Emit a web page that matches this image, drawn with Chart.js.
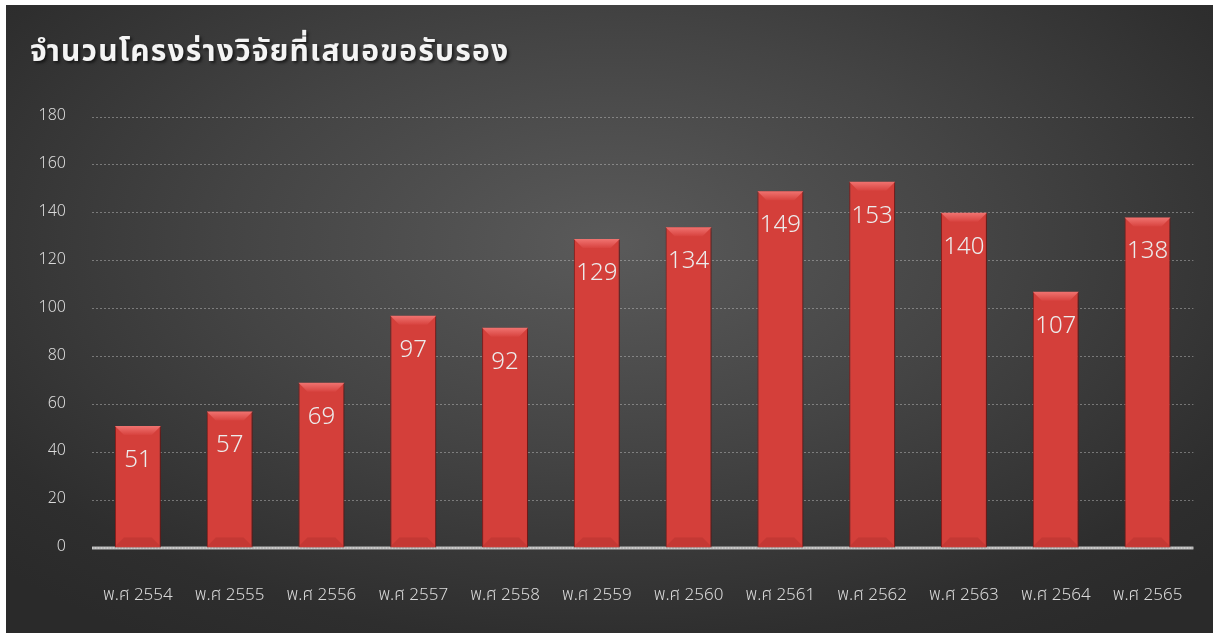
<!DOCTYPE html>
<html>
<head>
<meta charset="utf-8">
<script src="https://cdn.jsdelivr.net/npm/chart.js@4.4.1/dist/chart.umd.min.js"></script>
<style>
  html, body { margin: 0; padding: 0; background: #fff; }
  #box {
    position: absolute; left: 6px; top: 5px; width: 1207px; height: 628px;
    background: radial-gradient(ellipse 70% 75% at 50% 38%, #5a5a5a 0%, #444 45%, #2e2e2e 85%, #2a2a2a 100%);
    overflow: hidden;
  }
  #title {
    position: absolute; left: 24px; top: 24px; margin: 0;
    font-family: "Noto Sans Thai", "Noto Sans", sans-serif; font-size: 30px; font-weight: bold;
    color: #f4f4f4; letter-spacing: 1.2px;
    text-shadow: 2px 2px 3px rgba(0,0,0,0.6);
  }
  canvas { position: absolute; left: 0; top: 0; }
</style>
</head>
<body>
<div id="box">
  <canvas id="chart" width="1207" height="628"></canvas>
  <h1 id="title">จำนวนโครงร่างวิจัยที่เสนอขอรับรอง</h1>
</div>
<script>
// ข้อมูลกราฟ
const years = ["พ.ศ 2554", "พ.ศ 2555", "พ.ศ 2556", "พ.ศ 2557", "พ.ศ 2558", "พ.ศ 2559",
  "พ.ศ 2560", "พ.ศ 2561", "พ.ศ 2562", "พ.ศ 2563", "พ.ศ 2564", "พ.ศ 2565"];
const proposals = [51, 57, 69, 97, 92, 129, 134, 149, 153, 140, 107, 138];
const yTicks = [0, 20, 40, 60, 80, 100, 120, 140, 160, 180];

const FONT = '"Noto Sans Thai", "Noto Sans", sans-serif';

// แท่งสีแดงแบบนูน: ไล่สีแนวนอน
function barFill(ctx) {
  const el = ctx.element;
  const c = ctx.chart.ctx;
  if (!el || el.width === undefined) return "#d43f3a";
  const x0 = el.x - el.width / 2, x1 = el.x + el.width / 2;
  const g = c.createLinearGradient(x0, 0, x1, 0);
  g.addColorStop(0, "#a82523");
  g.addColorStop(0.1, "#c93935");
  g.addColorStop(0.5, "#d8433f");
  g.addColorStop(0.9, "#c93935");
  g.addColorStop(1, "#a82523");
  return g;
}

// เงาของแท่ง
const shadowPlugin = {
  id: "barShadow",
  beforeDatasetDraw(chart) {
    const c = chart.ctx;
    c.save();
    c.shadowColor = "rgba(0,0,0,0.45)";
    c.shadowBlur = 8;
    c.shadowOffsetX = 2;
    c.shadowOffsetY = 0;
  },
  afterDatasetDraw(chart) {
    chart.ctx.restore();
  }
};

// เส้นฐานศูนย์
const zeroLinePlugin = {
  id: "zeroLine",
  beforeDatasetsDraw(chart) {
    const c = chart.ctx;
    const y = chart.scales.y.getPixelForValue(0);
    c.save();
    c.strokeStyle = "#b8b8b8";
    c.lineWidth = 3;
    c.beginPath();
    c.moveTo(chart.chartArea.left, y);
    c.lineTo(chart.chartArea.right, y);
    c.stroke();
    c.strokeStyle = "rgba(255,255,255,0.5)";
    c.lineWidth = 1;
    c.setLineDash([1, 2]);
    c.beginPath();
    c.moveTo(chart.chartArea.left, y);
    c.lineTo(chart.chartArea.right, y);
    c.stroke();
    c.restore();
  }
};

// ขอบบนของแท่ง (bevel)
const bevelPlugin = {
  id: "bevel",
  afterDatasetsDraw(chart) {
    const c = chart.ctx;
    chart.getDatasetMeta(0).data.forEach((bar) => {
      const l = bar.x - bar.width / 2, r = bar.x + bar.width / 2;
      const t = bar.y, b = bar.base;
      const d = 9;
      c.save();
      const gt = c.createLinearGradient(0, t, 0, t + d);
      gt.addColorStop(0, "#f07370");
      gt.addColorStop(1, "#d8433f");
      c.fillStyle = gt;
      c.beginPath();
      c.moveTo(l, t); c.lineTo(r, t); c.lineTo(r - d, t + d); c.lineTo(l + d, t + d);
      c.closePath(); c.fill();
      c.fillStyle = "rgba(130,25,25,0.18)";
      c.beginPath();
      c.moveTo(l, b - 1); c.lineTo(r, b - 1); c.lineTo(r - d, b - d - 1); c.lineTo(l + d, b - d - 1);
      c.closePath(); c.fill();
      c.restore();
    });
  }
};

// ป้ายค่าในแท่ง
const labelPlugin = {
  id: "valueLabels",
  afterDatasetsDraw(chart) {
    const c = chart.ctx;
    const meta = chart.getDatasetMeta(0);
    c.save();
    c.font = "300 24px " + FONT;
    c.fillStyle = "#ececec";
    c.textAlign = "center";
    c.textBaseline = "middle";
    meta.data.forEach((bar, i) => {
      c.fillText(String(proposals[i]), bar.x, bar.y + 36);
    });
    c.restore();
  }
};

new Chart(document.getElementById("chart"), {
  type: "bar",
  data: {
    labels: years,
    datasets: [{
      data: proposals,
      backgroundColor: barFill,
      borderColor: "#9e2220",
      borderWidth: 1,
      borderSkipped: "bottom",
      categoryPercentage: 1,
      barPercentage: 0.5,
    }],
  },
  options: {
    responsive: false,
    animation: false,
    layout: { padding: { top: 112, right: 15, left: 0, bottom: 0 } },
    plugins: {
      legend: { display: false },
      tooltip: { enabled: false },
    },
    scales: {
      x: {
        grid: { display: false },
        border: { display: false },
        ticks: { color: "#d9d9d9", font: { family: FONT, size: 17, weight: "300" }, padding: 30, maxRotation: 0 },
        afterFit(s) { s.height = 85; },
      },
      y: {
        min: 0,
        max: 180,
        afterBuildTicks(s) { s.ticks = yTicks.map((v) => ({ value: v })); },
        grid: {
          drawTicks: false,
          color: (ctx) => (ctx.tick && ctx.tick.value === 0 ? "rgba(0,0,0,0)" : "rgba(200,200,200,0.45)"),
          lineWidth: 1,
        },
        border: { display: false, dash: [2, 2] },
        ticks: { color: "#d9d9d9", font: { family: FONT, size: 16, weight: "300" }, padding: 26 },
        afterFit(s) { s.width = 86; },
      },
    },
  },
  plugins: [zeroLinePlugin, shadowPlugin, bevelPlugin, labelPlugin],
});
</script>
</body>
</html>
